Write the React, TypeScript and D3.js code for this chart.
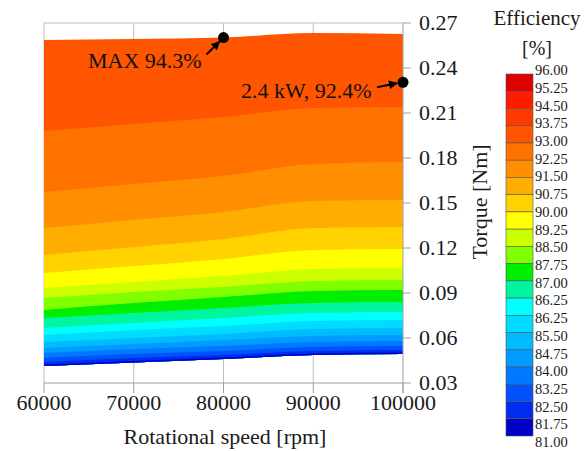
import React from 'react';
import * as d3 from 'd3';

const speeds = [60000, 70000, 80000, 90000, 100000];

// torque [Nm] of each band edge at every speed, top edge of the map first, bottom edge last
const bandEdges = [
  [0.2587, 0.2593, 0.2603, 0.2633, 0.2627],
  [0.198, 0.2027, 0.2073, 0.2133, 0.214],
  [0.1573, 0.1627, 0.168, 0.176, 0.1773],
  [0.1333, 0.1387, 0.144, 0.1513, 0.152],
  [0.1153, 0.1207, 0.126, 0.1333, 0.134],
  [0.1033, 0.108, 0.1127, 0.1187, 0.1193],
  [0.0933, 0.0973, 0.1013, 0.106, 0.1067],
  [0.0867, 0.0907, 0.094, 0.098, 0.0987],
  [0.0787, 0.0833, 0.0873, 0.0913, 0.092],
  [0.0733, 0.0767, 0.08, 0.0833, 0.084],
  [0.0667, 0.07, 0.0733, 0.0767, 0.0773],
  [0.062, 0.0653, 0.068, 0.0713, 0.072],
  [0.0573, 0.06, 0.0627, 0.066, 0.0667],
  [0.0533, 0.056, 0.0587, 0.0613, 0.062],
  [0.05, 0.0527, 0.0547, 0.0573, 0.058],
  [0.0467, 0.0493, 0.0513, 0.054, 0.0547],
  [0.044, 0.0467, 0.0487, 0.0513, 0.052],
  [0.0423, 0.0447, 0.047, 0.0497, 0.0503],
  [0.0413, 0.0437, 0.046, 0.0487, 0.0493],
];

// colour bar, top to bottom
const levelColors = [
  '#e00000', '#ff1c00', '#ff3a00', '#ff5500', '#ff7200', '#ff8f00', '#ffad00',
  '#ffd200', '#ffff00', '#ccff00', '#80ff00', '#00ee00', '#00f5a0', '#00ffff',
  '#00dcff', '#00bcff', '#009cff', '#0078ff', '#0052ff', '#002cf0', '#0000c8',
];
const levelLabels = [
  '96.00', '95.25', '94.50', '93.75', '93.00', '92.25', '91.50', '90.75', '90.00', '89.25', '88.50',
  '87.75', '87.00', '86.25', '86.25', '85.50', '84.75', '84.00', '83.25', '82.50', '81.75', '81.00',
];
// the top band of the map is the 4th colour of the bar
const firstMapLevel = 3;

const xTicks = [60000, 70000, 80000, 90000, 100000];
const yTicks = [0.03, 0.06, 0.09, 0.12, 0.15, 0.18, 0.21, 0.24, 0.27];

const maxPoint = { speed: 80000, torque: 0.2603, label: 'MAX 94.3%' };
const ratedPoint = { speed: 100000, torque: 0.2305, label: '2.4 kW, 92.4%' };

const serif = { fontFamily: '"Liberation Serif", "Times New Roman", "DejaVu Serif", serif' };

const App = () => {
  const x = d3.scaleLinear().domain([60000, 100000]).range([44, 403]);
  const y = d3.scaleLinear().domain([0.03, 0.27]).range([383, 23]);
  const bottomEdge = bandEdges[bandEdges.length - 1];

  // each band is filled from the bottom edge up to its upper edge, lower bands painted over
  const bandArea = d3.area<number>()
    .x((_, i) => x(speeds[i]))
    .y0((_, i) => y(bottomEdge[i]))
    .y1(d => y(d))
    .curve(d3.curveMonotoneX);

  const barY = d3.scaleLinear().domain([0, levelColors.length]).range([74, 436]);
  const labelY = d3.scaleLinear().domain([0, levelLabels.length - 1]).range([70, 442]);

  const grid = '#bdbdbd';
  const axis = '#a0a0a0';
  const ink = '#1a1a1a';

  const mx = x(maxPoint.speed), my = y(maxPoint.torque);
  const rx = x(ratedPoint.speed), ry = y(ratedPoint.torque);

  return (
    <svg width={587} height={451} style={{ position: 'absolute', left: 0, top: 0, background: '#fff', ...serif }}>
      <defs>
        <marker id="head" viewBox="0 0 10 10" refX="9" refY="5" markerWidth="9" markerHeight="9"
          markerUnits="userSpaceOnUse" orient="auto">
          <path d="M0,0 L10,5 L0,10 z" fill="#000" />
        </marker>
      </defs>

      {/* grid and frame */}
      {xTicks.slice(1, -1).map(t => (
        <line key={t} x1={x(t)} x2={x(t)} y1={y(0.27)} y2={y(0.03)} stroke={grid} />
      ))}
      <line x1={x(60000)} x2={x(100000)} y1={y(0.27)} y2={y(0.27)} stroke={grid} />
      <line x1={x(60000)} x2={x(60000)} y1={y(0.27)} y2={y(0.03)} stroke={grid} />

      {/* efficiency map */}
      {bandEdges.slice(0, -1).map((edge, k) => (
        <path key={k} d={bandArea(edge) || ''} fill={levelColors[firstMapLevel + k]} />
      ))}

      {/* bottom axis */}
      <line x1={x(60000)} x2={x(100000)} y1={y(0.03)} y2={y(0.03)} stroke={axis} />
      {xTicks.map(t => (
        <g key={t}>
          <line x1={x(t)} x2={x(t)} y1={y(0.03)} y2={y(0.03) + 10} stroke={axis} />
          <text x={x(t)} y={410} textAnchor="middle" fontSize={22} fill={ink} style={serif}>{t}</text>
        </g>
      ))}
      <text x={225} y={444} textAnchor="middle" fontSize={22} fill={ink} style={serif}>Rotational speed [rpm]</text>

      {/* right axis */}
      <line x1={x(100000)} x2={x(100000)} y1={y(0.27)} y2={y(0.03) + 10} stroke={axis} />
      {yTicks.map(t => (
        <g key={t}>
          <line x1={x(100000)} x2={x(100000) + 8} y1={y(t)} y2={y(t)} stroke={axis} />
          <text x={419} y={y(t)} dy="0.34em" fontSize={22} fill={ink} style={serif}>{t.toFixed(2)}</text>
        </g>
      ))}
      <text transform="translate(487,202) rotate(-90)" textAnchor="middle" fontSize={22} fill={ink} style={serif}>
        Torque [Nm]
      </text>

      {/* annotations */}
      <circle cx={mx} cy={my} r={5.5} fill="#000" />
      <line x1={mx - 17} x2={mx - 4} y1={my + 17} y2={my + 4} stroke="#000" strokeWidth={2} markerEnd="url(#head)" />
      <text x={88} y={68} fontSize={22} fill="#111" style={serif}>{maxPoint.label}</text>

      <circle cx={rx} cy={ry} r={5.5} fill="#000" />
      <line x1={rx - 26} x2={rx - 6} y1={ry + 5} y2={ry + 1} stroke="#000" strokeWidth={2} markerEnd="url(#head)" />
      <text x={241} y={98} fontSize={22} fill="#111" style={serif}>{ratedPoint.label}</text>

      {/* colour bar */}
      <text x={537} y={25} textAnchor="middle" fontSize={21} fill={ink} style={serif}>Efficiency</text>
      <text x={537} y={55} textAnchor="middle" fontSize={20} fill={ink} style={serif}>[%]</text>
      {levelColors.map((c, i) => (
        <rect key={c} x={506} y={barY(i)} width={27} height={barY(i + 1) - barY(i)} fill={c}
          stroke="#555" strokeWidth={0.6} />
      ))}
      {levelLabels.map((l, i) => (
        <text key={i} x={535} y={labelY(i)} dy="0.35em" fontSize={14.5} fill={ink} style={serif}>{l}</text>
      ))}
    </svg>
  );
};

export default App;
